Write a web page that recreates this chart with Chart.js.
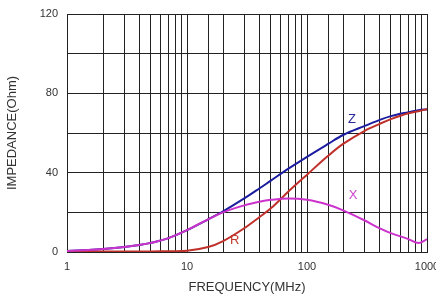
<!DOCTYPE html>
<html>
<head>
<meta charset="utf-8">
<script src="https://cdn.jsdelivr.net/npm/chart.js@4/dist/chart.umd.min.js"></script>
<style>
html,body{margin:0;padding:0;background:#fff;}
canvas{display:block;}
</style>
</head>
<body>
<canvas id="c" width="436" height="298"></canvas>
<script>
const freqs = [1, 1.5, 2, 3, 4, 5, 7, 10, 15, 20, 30, 40, 50, 70, 100, 150, 200, 300, 400, 500, 700, 850, 1000];
const xVals = [0.5, 1.0, 1.5, 2.5, 3.5, 4.6, 7, 11, 16.5, 20, 23.5, 25.3, 26.3, 27, 26.3, 23.8, 21, 16, 12, 9.5, 6.5, 4.5, 6.5];
const rVals = [0.3, 0.3, 0.3, 0.3, 0.3, 0.3, 0.4, 0.6, 2.5, 5.5, 12, 17.5, 22, 30.5, 39, 48.5, 54.5, 61, 64.5, 67, 70, 71, 72];
const zVals = [0.5, 1.0, 1.5, 2.5, 3.5, 4.6, 7, 11, 16.5, 20.5, 27, 32, 36, 42, 48, 54.5, 59, 63.5, 66.5, 68.5, 70.5, 71.5, 72];
const xTickLabels = [1, 10, 100, 1000];
const yTickLabels = [0, 40, 80, 120];
const curveLabels = [
  {text: 'Z', f: 237, v: 67, color: '#2a2a9a'},
  {text: 'R', f: 25, v: 6, color: '#c0392b'},
  {text: 'X', f: 242, v: 28.7, color: '#cc44cc'}
];

const pts = arr => freqs.map((f, i) => ({x: f, y: arr[i]}));

const labelPlugin = {
  id: 'curveLabels',
  afterDatasetsDraw(chart) {
    const {ctx, scales} = chart;
    ctx.save();
    ctx.font = '13px "Liberation Sans", Arial, sans-serif';
    ctx.textAlign = 'center';
    ctx.textBaseline = 'middle';
    curveLabels.forEach(l => {
      ctx.fillStyle = l.color;
      ctx.fillText(l.text, scales.x.getPixelForValue(l.f), scales.y.getPixelForValue(l.v));
    });
    ctx.restore();
  }
};

new Chart(document.getElementById('c'), {
  type: 'line',
  data: {
    datasets: [
      {label: 'X', data: pts(xVals), borderColor: '#cc33cc', borderWidth: 2, pointRadius: 0, tension: 0.35, fill: false},
      {label: 'R', data: pts(rVals), borderColor: '#c0302a', borderWidth: 2, pointRadius: 0, tension: 0.35, fill: false},
      {label: 'Z', data: pts(zVals), borderColor: '#1c1ca0', borderWidth: 2, pointRadius: 0, tension: 0.35, fill: false}
    ]
  },
  options: {
    responsive: false,
    animation: false,
    devicePixelRatio: 1,
    layout: {padding: {top: 14, right: 9, left: 0, bottom: 0}},
    plugins: {legend: {display: false}, tooltip: {enabled: false}},
    scales: {
      x: {
        type: 'logarithmic',
        min: 1, max: 1000,
        border: {display: true, color: '#222', width: 1},
        grid: {color: '#222', lineWidth: 1, drawTicks: false},
        ticks: {
          autoSkip: false, maxRotation: 0, padding: 8,
          color: '#333',
          font: {family: '"Liberation Sans", Arial, sans-serif', size: 11},
          callback: v => xTickLabels.includes(v) ? String(v) : ''
        },
        title: {display: true, text: 'FREQUENCY(MHz)', color: '#333',
          font: {family: '"Liberation Sans", Arial, sans-serif', size: 13},
          padding: {top: 4, bottom: 3}},
        afterFit(s) { s.height = 46; s.paddingLeft = 0; s.paddingRight = 0; }
      },
      y: {
        min: 0, max: 120,
        border: {display: true, color: '#222', width: 1},
        grid: {color: '#222', lineWidth: 1, drawTicks: false},
        ticks: {
          stepSize: 20, padding: 9, color: '#333',
          font: {family: '"Liberation Sans", Arial, sans-serif', size: 11},
          callback: v => yTickLabels.includes(v) ? String(v) : ''
        },
        title: {display: true, text: 'IMPEDANCE(Ohm)', color: '#333',
          font: {family: '"Liberation Sans", Arial, sans-serif', size: 13},
          padding: {top: 5, bottom: 4}},
        afterFit(s) { s.width = 67; s.paddingTop = 0; s.paddingBottom = 0; }
      }
    }
  },
  plugins: [labelPlugin]
});
</script>
</body>
</html>
